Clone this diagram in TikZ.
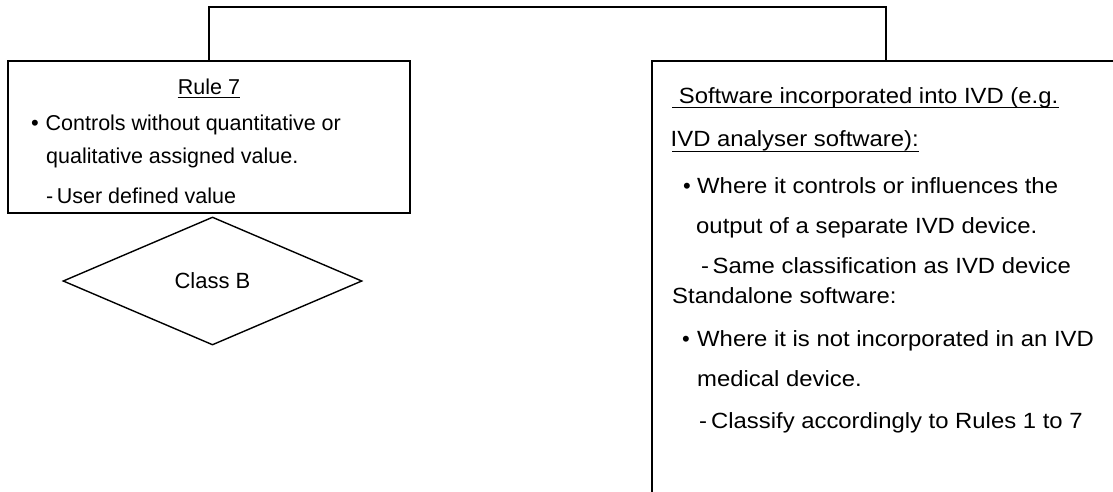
\documentclass[tikz,border=0pt]{standalone}
\usepackage{fontspec}
\setmainfont{Liberation Sans}
\newfontfamily\widefont[FakeStretch=1.085]{Liberation Sans}
\usetikzlibrary{shapes.geometric, positioning, calc}

\begin{document}
\begin{tikzpicture}[
    x=1pt, y=-1pt,
    box/.style={rectangle, draw, line width=2pt, inner sep=0pt},
    classbox/.style={diamond, draw, line width=1.4pt, inner sep=0pt, minimum width=299pt, minimum height=128pt, font=\fontsize{22}{26}\selectfont},
    txt/.style={anchor=base west, inner sep=0pt, font=\fontsize{21.5}{26}\selectfont},
    wtxt/.style={anchor=base west, inner sep=0pt, font=\widefont\fontsize{22}{26}\selectfont},
    dot/.style={anchor=base, inner sep=0pt, font=\fontsize{22}{26}\selectfont},
    uline/.style={line width=1.3pt},
    link/.style={line width=2pt}
]
    \useasboundingbox (0,0) rectangle (1113,491);
    \clip (0,0) rectangle (1113,491);

    % Rule 7 box
    \node[box, minimum width=402pt, minimum height=152pt] (rule) at (209,137) {};
    \node[txt, anchor=base] (rt) at (209,94.3) {Rule 7};
    \draw[uline] ($(rt.base west)+(0,3.5)$) -- ($(rt.base east)+(0,3.5)$);
    \node[dot] (rb1) at (35,130.7) {\textbullet};
    \node[txt] (r1) at (45.5,130.7) {Controls without quantitative or};
    \node[txt] (r2) at (46,163.3) {qualitative assigned value.};
    \node[txt] (r3) at (46,203.3) {-\kern3.5pt User defined value};

    % Class B
    \node[classbox] (cls) at (212.5,281) {Class B};

    % Software box (runs past the page)
    \node[box, minimum width=480pt, minimum height=450pt] (sw) at (892,286) {};
    \node[wtxt] (s1) at (672,103.3) {\ Software incorporated into IVD (e.g.};
    \draw[uline] ($(s1.base west)+(0,4.5)$) -- ($(s1.base east)+(0,4.5)$);
    \node[wtxt] (s2) at (670.5,146.7) {IVD analyser software):};
    \draw[uline] ($(s2.base west)+(1.5,4.5)$) -- ($(s2.base east)+(0,4.5)$);
    \node[dot] (sb1) at (687,193.5) {\textbullet};
    \node[wtxt] (s3) at (697,193.5) {Where it controls or influences the};
    \node[wtxt] (s4) at (696,233) {output of a separate IVD device.};
    \node[wtxt] (s5) at (701,273) {-\kern3.5pt Same classification as IVD device};
    \node[wtxt] (s6) at (672,303) {Standalone software:};
    \node[dot] (sb2) at (686,346.5) {\textbullet};
    \node[wtxt] (s7) at (697,346.5) {Where it is not incorporated in an IVD};
    \node[wtxt] (s8) at (697,386.7) {medical device.};
    \node[wtxt] (s9) at (699,428.3) {-\kern4pt Classify accordingly to Rules 1 to 7};

    % connector
    \draw[link] (rule.north) -- ++(0,-53) -| (886,61);

\end{tikzpicture}
\end{document}
